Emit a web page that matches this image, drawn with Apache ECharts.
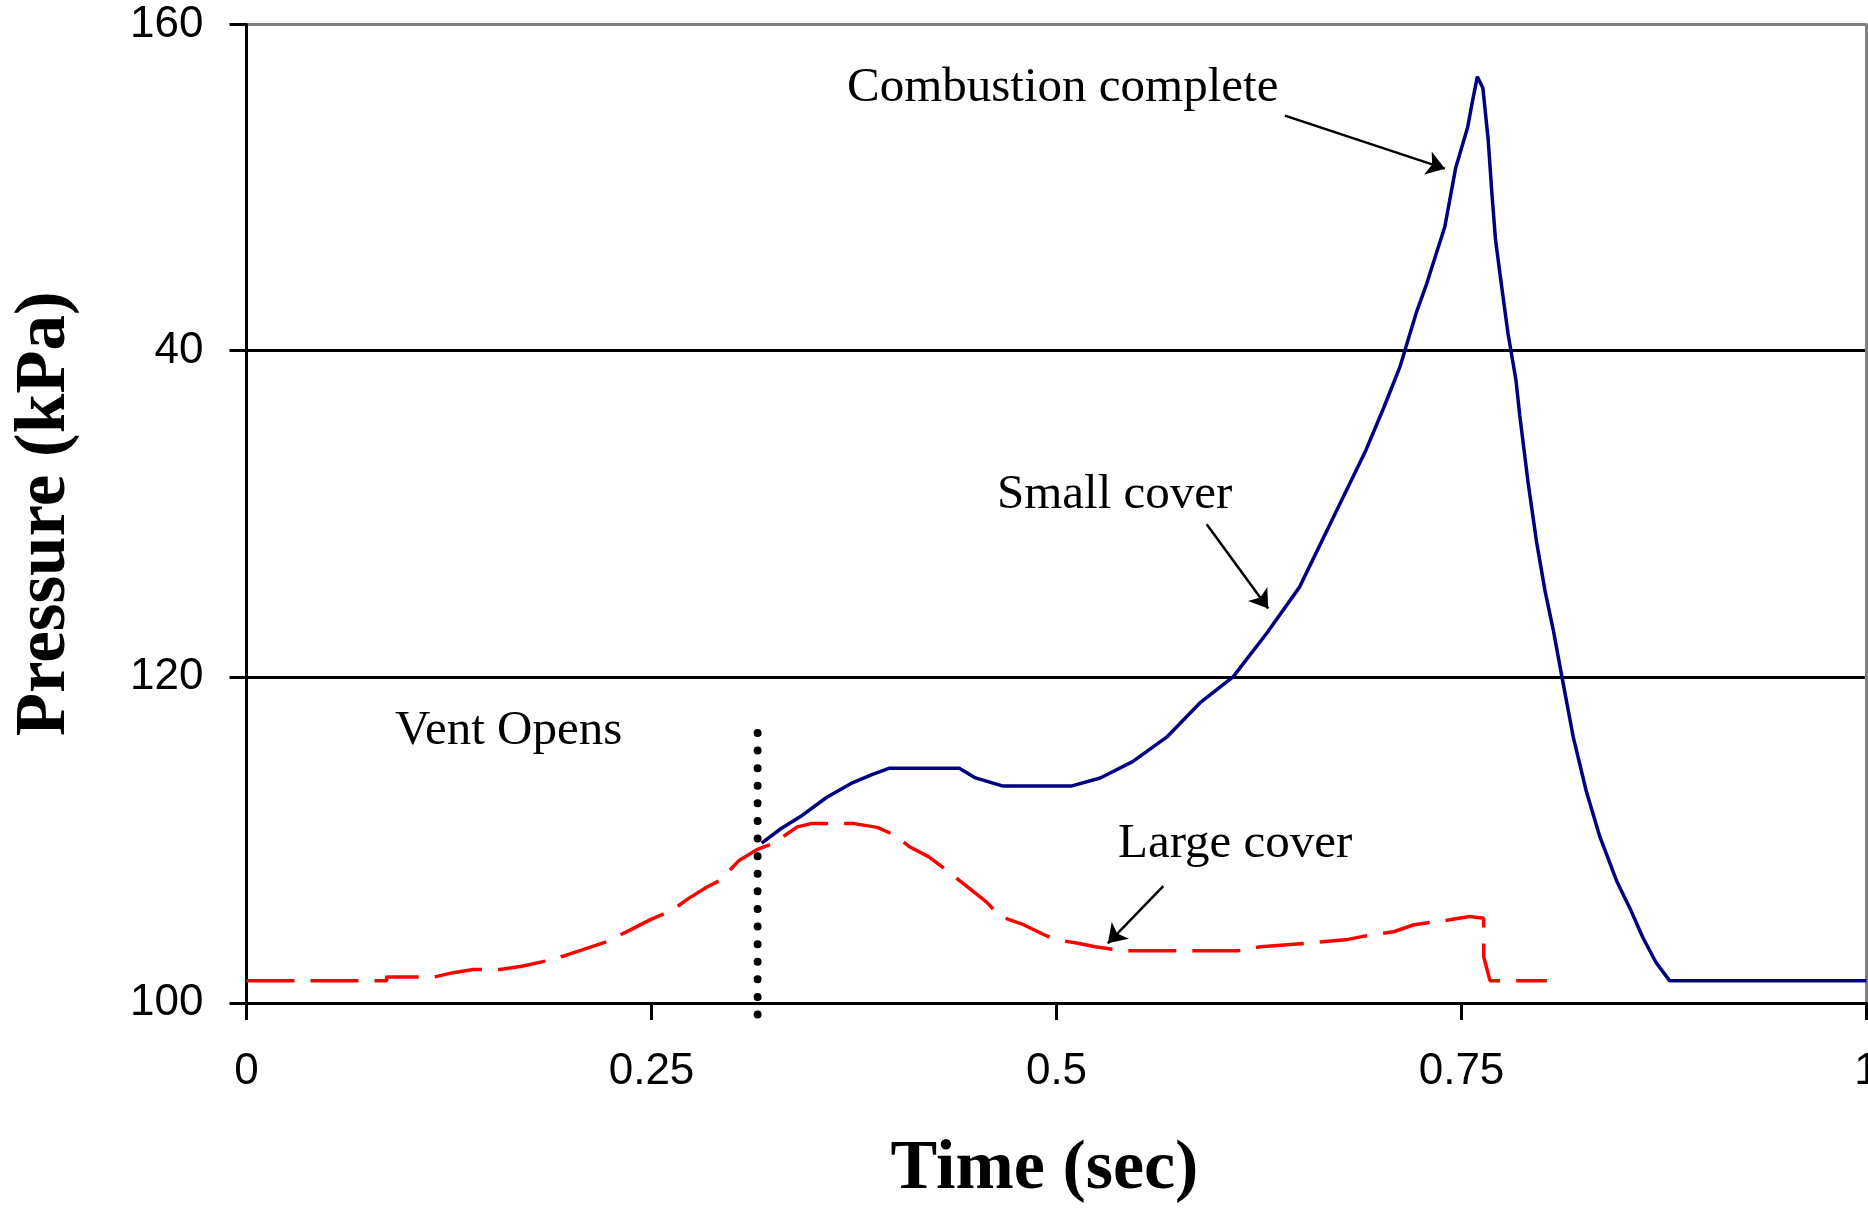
<!DOCTYPE html>
<html>
<head>
<meta charset="utf-8">
<script src="https://cdn.jsdelivr.net/npm/echarts@6/dist/echarts.min.js"></script>
<style>
html,body{margin:0;padding:0;background:#fff;}
#chart{width:1868px;height:1218px;}
</style>
</head>
<body>
<div id="chart"></div>
<script>
// ---- data ----
const xTicks = [0, 0.25, 0.5, 0.75, 1];
const xTickLabels = ['0', '0.25', '0.5', '0.75', '1'];
const yTicks = [100, 120, 140, 160];
const yTickLabels = ['100', '120', '40', '160'];

const smallCover = [
  [0.318, 109.8], [0.330, 110.7], [0.343, 111.5], [0.358, 112.6], [0.374, 113.5],
  [0.386, 114.0], [0.397, 114.4], [0.440, 114.4], [0.450, 113.8], [0.467, 113.3],
  [0.509, 113.3], [0.527, 113.8], [0.547, 114.8], [0.568, 116.3], [0.5885, 118.4],
  [0.609, 120.0], [0.630, 122.7], [0.650, 125.5], [0.671, 129.8], [0.691, 133.9],
  [0.702, 136.5], [0.712, 139.0], [0.7162, 140.4], [0.722, 142.3], [0.7285, 144.1],
  [0.7397, 147.6], [0.7464, 151.2], [0.7538, 153.7], [0.7564, 155.1], [0.7598, 156.8],
  [0.7632, 156.1], [0.7665, 152.9], [0.7688, 149.6], [0.771, 146.8], [0.7743, 144.3],
  [0.7787, 141.05], [0.7836, 138.2], [0.786, 136.0], [0.791, 132.0], [0.7963, 128.3],
  [0.8015, 125.3], [0.8066, 122.9], [0.812, 120.0], [0.819, 116.3], [0.827, 113.0],
  [0.8354, 110.2], [0.8457, 107.5], [0.854, 105.8], [0.862, 104.0], [0.870, 102.5],
  [0.8784, 101.37], [1.0, 101.37]
];

const largeCover = [
  [0, 101.37], [0.0865, 101.37], [0.0865, 101.6], [0.116, 101.6], [0.1276, 101.86],
  [0.14, 102.06], [0.1565, 102.06], [0.1708, 102.27], [0.1873, 102.63], [0.1965, 102.9],
  [0.21, 103.35], [0.2223, 103.76], [0.2367, 104.47], [0.249, 105.1], [0.263, 105.7],
  [0.2727, 106.4], [0.284, 107.1], [0.292, 107.5], [0.3043, 108.76], [0.315, 109.4],
  [0.3256, 109.8], [0.3327, 110.3], [0.34, 110.8], [0.3484, 111.0], [0.3752, 111.0],
  [0.3894, 110.77], [0.40, 110.3], [0.409, 109.6], [0.4212, 108.96], [0.432, 108.15],
  [0.4478, 106.9], [0.4567, 106.2], [0.4655, 105.3], [0.4797, 104.8], [0.492, 104.2],
  [0.499, 103.9], [0.5133, 103.66], [0.524, 103.45], [0.541, 103.2], [0.612, 103.2],
  [0.626, 103.45], [0.6545, 103.66], [0.680, 103.9], [0.69, 104.1], [0.708, 104.37],
  [0.7207, 104.8], [0.7428, 105.1], [0.755, 105.3], [0.7637, 105.2], [0.7637, 102.84],
  [0.7676, 101.37], [0.8027, 101.37]
];

const ventLine = [[0.3155, 116.56], [0.3155, 99.15]];

const arrowCombustion = [[0.641, 154.41], [0.7398, 151.16]];
const arrowSmall = [[0.5927, 129.35], [0.6307, 124.19]];
const arrowLarge = [[0.5659, 107.17], [0.5317, 103.66]];

const annotationTexts = ['Combustion complete', 'Vent Opens', 'Small cover', 'Large cover'];

// ---- chart ----
const chart = echarts.init(document.getElementById('chart'), null, {renderer: 'canvas'});
const annFont = '49px "Liberation Serif", "Times New Roman", serif';
const annFs = 49;

function annText(text, left, baseline) {
  return {
    type: 'text',
    x: left,
    y: baseline - annFs * 0.33 + 3,
    silent: true,
    style: {
      text: text,
      font: annFont,
      fill: '#000',
      align: 'left',
      verticalAlign: 'middle'
    }
  };
}

const option = {
  backgroundColor: '#ffffff',
  animation: false,
  grid: {left: 246.5, right: 1.5, top: 24.5, bottom: 215, containLabel: false, outerBoundsMode: 'none'},
  xAxis: {
    type: 'value',
    min: 0, max: 1, interval: 0.25,
    name: 'Time (sec)',
    nameLocation: 'middle',
    nameGap: 132,
    nameTextStyle: {
      fontFamily: '"Liberation Serif", "Times New Roman", serif',
      fontWeight: 'bold', fontSize: 70, color: '#000',
      padding: [0, 24, 0, 0]
    },
    axisLine: {show: true, onZero: false, lineStyle: {color: '#000', width: 3}},
    axisTick: {show: true, inside: false, length: 17, lineStyle: {color: '#000', width: 3}},
    axisLabel: {
      margin: 47,
      fontFamily: '"Liberation Sans", Arial, sans-serif',
      fontSize: 44, color: '#000',
      formatter: function (v) {
        const i = xTicks.findIndex(t => Math.abs(t - v) < 1e-9);
        return i >= 0 ? xTickLabels[i] : '';
      }
    },
    splitLine: {show: false}
  },
  yAxis: [{
    type: 'value',
    min: 100, max: 160, interval: 20,
    name: 'Pressure (kPa)',
    nameLocation: 'middle',
    nameGap: 165,
    nameTextStyle: {
      fontFamily: '"Liberation Serif", "Times New Roman", serif',
      fontWeight: 'bold', fontSize: 71, color: '#000'
    },
    axisLine: {show: true, onZero: false, lineStyle: {color: '#000', width: 3}},
    axisTick: {show: true, inside: false, length: 17, lineStyle: {color: '#000', width: 3}},
    axisLabel: {
      margin: 43,
      fontFamily: '"Liberation Sans", Arial, sans-serif',
      fontSize: 44, color: '#000',
      formatter: function (v) {
        const i = yTicks.findIndex(t => Math.abs(t - v) < 1e-9);
        return i >= 0 ? yTickLabels[i] : '';
      }
    },
    splitLine: {show: true, lineStyle: {color: ['#000', '#000', '#000', '#808080'], width: 3}}
  }, {
    type: 'value',
    position: 'right',
    min: 100, max: 160, interval: 20,
    axisLine: {show: true, onZero: false, lineStyle: {color: '#808080', width: 3}},
    axisTick: {show: false},
    axisLabel: {show: false},
    splitLine: {show: false}
  }],
  series: [
    {
      name: 'Small cover',
      type: 'line',
      data: smallCover,
      showSymbol: false,
      symbol: 'none',
      lineStyle: {color: '#000080', width: 3.5},
      z: 3
    },
    {
      name: 'Large cover',
      type: 'line',
      data: largeCover,
      showSymbol: false,
      symbol: 'none',
      lineStyle: {color: '#ff0000', width: 3.5, type: [48, 16]},
      z: 4
    },
    {
      name: 'Vent',
      type: 'line',
      data: ventLine,
      clip: false,
      showSymbol: false,
      symbol: 'none',
      lineStyle: {color: '#000', width: 8, type: [0.01, 17.59], cap: 'round'},
      z: 5
    },
    {
      name: 'Arrows',
      type: 'lines',
      coordinateSystem: 'cartesian2d',
      symbol: ['none', 'arrow'],
      symbolSize: 18,
      lineStyle: {color: '#000', width: 2.5, opacity: 1, curveness: 0},
      data: [
        {coords: arrowCombustion},
        {coords: arrowSmall},
        {coords: arrowLarge}
      ],
      z: 6
    }
  ],
  graphic: [
    annText(annotationTexts[0], 847, 101.7),
    annText(annotationTexts[1], 395, 744),
    annText(annotationTexts[2], 997, 508.3),
    annText(annotationTexts[3], 1118, 857.3)
  ]
};

chart.setOption(option);
</script>
</body>
</html>
